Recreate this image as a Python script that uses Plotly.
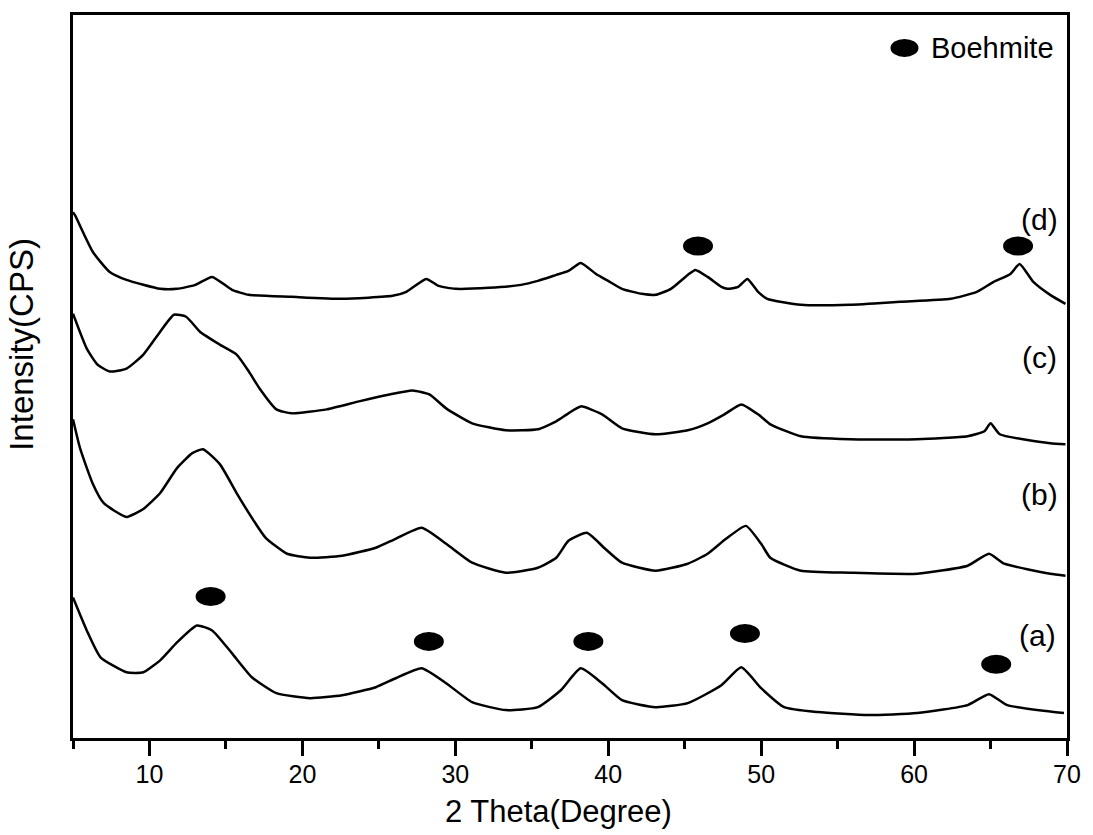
import plotly.graph_objects as go

# ---- data (2θ in degrees, intensity in arbitrary offset units) ----
theta_d = [5.0, 5.13, 6.3, 7.4, 8.5, 10.7, 11.8, 13.0, 14.1, 15.4, 16.5, 19.3, 22.6, 25.9, 26.8, 28.1, 28.9,
           30.0, 32.2, 34.3, 35.4, 36.6, 37.4, 38.2, 39.2, 40.0, 40.9, 42.2, 43.1, 44.1, 45.2, 45.7, 46.5,
           47.4, 47.8, 48.5, 49.1, 49.8, 50.4, 52.6, 55.8, 59.1, 62.4, 64.1, 65.2, 66.3, 66.9, 67.8, 68.9, 69.9]
int_d = [528, 525, 488, 468, 460, 451, 451, 455, 463, 450, 445, 443, 441, 444, 448, 461, 454,
         451, 452, 455, 459, 465, 469, 477, 466, 459, 451, 446, 445, 451, 465, 470, 463,
         453, 451, 453, 461, 448, 441, 435, 435, 438, 441, 448, 458, 466, 476, 458, 445, 436]

theta_c = [5.0, 5.9, 6.6, 7.4, 8.5, 9.6, 10.7, 11.6, 12.4, 13.3, 14.6, 15.7, 16.5, 17.2, 18.3, 19.3, 21.6,
           23.7, 25.7, 27.2, 28.3, 29.4, 31.1, 33.3, 35.4, 36.6, 37.4, 38.2, 39.6, 40.9, 43.1, 45.2, 46.5,
           47.6, 48.7, 49.8, 50.6, 52.6, 55.8, 60.2, 63.5, 64.6, 65.0, 65.6, 68.9, 69.9]
int_c = [426, 391, 375, 368, 371, 385, 408, 425, 423, 408, 395, 385, 368, 351, 330, 326, 330,
         338, 345, 349, 345, 331, 316, 309, 310, 318, 326, 333, 325, 311, 305, 309, 316,
         325, 335, 325, 315, 303, 300, 300, 303, 308, 316, 305, 296, 295]

theta_b = [5.0, 5.46, 6.3, 7.0, 8.5, 9.6, 10.7, 11.8, 12.8, 13.5, 14.6, 15.7, 16.7, 17.6, 19.0, 20.5, 22.6,
           24.8, 26.1, 27.8, 29.4, 31.1, 33.3, 35.4, 36.6, 37.4, 38.6, 39.8, 40.9, 43.1, 45.2, 46.5, 47.7,
           49.0, 50.0, 50.6, 52.6, 55.8, 60.2, 63.5, 64.9, 65.9, 68.9, 69.9]
int_b = [320, 291, 255, 236, 222, 230, 246, 271, 286, 290, 275, 246, 221, 201, 185, 181, 183,
         191, 200, 211, 195, 176, 166, 171, 181, 198, 206, 190, 176, 168, 175, 185, 200,
         213, 195, 181, 168, 166, 165, 173, 185, 175, 165, 163]

theta_a = [5.0, 5.9, 6.8, 8.5, 9.6, 10.7, 11.8, 13.1, 14.1, 15.4, 16.7, 18.3, 20.5, 22.6, 24.8, 26.1, 27.8,
           29.4, 31.1, 33.3, 35.4, 36.9, 38.2, 39.6, 40.9, 43.1, 45.2, 47.4, 48.7, 50.0, 51.5, 53.7, 57.0,
           60.2, 63.5, 64.9, 66.1, 69.8]
int_a = [141, 108, 81, 66, 66, 78, 96, 113, 108, 85, 61, 45, 40, 43, 51, 60, 70,
         55, 36, 28, 31, 48, 70, 55, 38, 31, 35, 53, 71, 50, 31, 26, 23,
         25, 33, 44, 33, 25]

# Boehmite peak markers
boehmite_theta = [45.87, 66.8, 14.0, 28.27, 38.7, 48.94, 65.37]
boehmite_level = [494, 494, 142, 97, 97, 105, 74]

# curve labels
label_text = ["(d)", "(c)", "(b)", "(a)"]
label_theta = [68.23, 68.23, 68.23, 68.1]
label_level = [521, 382, 245, 103]

x_ticks = [10, 20, 30, 40, 50, 60, 70]

FONT = "Arial, Liberation Sans, sans-serif"

fig = go.Figure()
for tx, iy in [(theta_a, int_a), (theta_b, int_b), (theta_c, int_c), (theta_d, int_d)]:
    fig.add_trace(go.Scatter(x=tx, y=iy, mode="lines",
                             line=dict(color="black", width=2.5, shape="spline", smoothing=0.5),
                             showlegend=False, hoverinfo="skip"))

shapes = []
for bt, bl in zip(boehmite_theta, boehmite_level):
    shapes.append(dict(type="circle", xref="x", yref="y", xsizemode="pixel", ysizemode="pixel",
                       xanchor=bt, yanchor=bl, x0=-15, x1=15, y0=-9.5, y1=9.5,
                       fillcolor="black", line=dict(color="black", width=0)))
# legend ellipse
shapes.append(dict(type="circle", xref="paper", yref="paper", xsizemode="pixel", ysizemode="pixel",
                   xanchor=0.8365, yanchor=0.9545, x0=-14, x1=14, y0=-9, y1=9,
                   fillcolor="black", line=dict(color="black", width=0)))

annotations = []
for t, lx, ly in zip(label_text, label_theta, label_level):
    annotations.append(dict(x=lx, y=ly, xref="x", yref="y", text=t, showarrow=False,
                            xanchor="center", yanchor="middle", font=dict(family=FONT, size=30, color="black")))
annotations.append(dict(x=0.8616, y=0.9545, xref="paper", yref="paper", text="Boehmite", showarrow=False,
                        xanchor="left", yanchor="middle", font=dict(family=FONT, size=29, color="black")))
annotations.append(dict(x=0.488, y=-0.102, xref="paper", yref="paper", text="2 Theta(Degree)", showarrow=False,
                        xanchor="center", yanchor="middle", font=dict(family=FONT, size=31, color="black")))
annotations.append(dict(x=-0.0512, y=0.544, xref="paper", yref="paper", text="Intensity(CPS)", showarrow=False,
                        textangle=-90, xanchor="center", yanchor="middle",
                        font=dict(family=FONT, size=33, color="black")))

fig.update_layout(
    width=1093, height=835,
    margin=dict(l=73, r=23, t=12, b=97),
    paper_bgcolor="white", plot_bgcolor="white",
    shapes=shapes, annotations=annotations,
    xaxis=dict(range=[5, 70], tickvals=x_ticks, ticks="outside", ticklen=15, tickwidth=3, tickcolor="black",
               ticklabelstandoff=-3,
               minor=dict(tickvals=[5, 15, 25, 35, 45, 55, 65], ticks="outside", ticklen=8, tickwidth=3,
                          tickcolor="black"),
               showline=True, linewidth=3, linecolor="black", mirror=True, showgrid=False, zeroline=False,
               tickfont=dict(family=FONT, size=25, color="black")),
    yaxis=dict(range=[0, 726], showticklabels=False, ticks="", showline=True, linewidth=3, linecolor="black",
               mirror=True, showgrid=False, zeroline=False),
)

fig.write_html("out.html")
